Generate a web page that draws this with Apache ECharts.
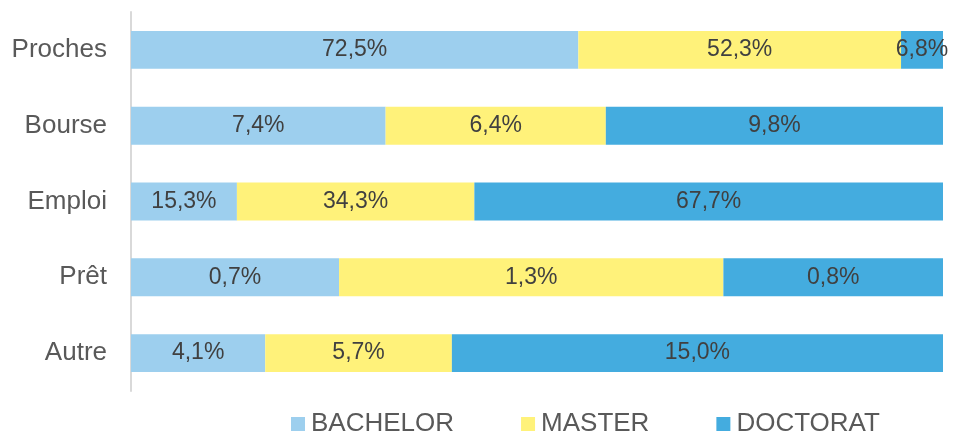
<!DOCTYPE html>
<html><head><meta charset="utf-8">
<script src="https://cdn.jsdelivr.net/npm/echarts@6/dist/echarts.min.js"></script>
<style>html,body{margin:0;padding:0;background:#fff}#c{width:954px;height:432px}</style>
</head><body><div id="c"></div>
<script>
const categories = ['Proches', 'Bourse', 'Emploi', 'Prêt', 'Autre'];
const seriesNames = ['BACHELOR', 'MASTER', 'DOCTORAT'];
// values as read (Prêt row carries an extra digit; labels round to 1 decimal)
const bachelor = [72.5, 7.4, 15.3, 0.72, 4.1];
const master = [52.3, 6.4, 34.3, 1.33, 5.7];
const doctorat = [6.8, 9.8, 67.7, 0.76, 15.0];
const colors = ['#9dcfee', '#fff27a', '#44acdf'];

const raw = [bachelor, master, doctorat];
const totals = categories.map((c, i) => bachelor[i] + master[i] + doctorat[i]);

const chart = echarts.init(document.getElementById('c'), null, {renderer: 'canvas'});
chart.setOption({
  animation: false,
  textStyle: {fontFamily: 'Liberation Sans, Arial, sans-serif'},
  grid: {left: 131, right: 11, top: 12, bottom: 41, containLabel: false},
  legend: {
    left: 286, top: 406, icon: 'rect', itemWidth: 14, itemHeight: 14, itemGap: 67,
    textStyle: {fontSize: 26, color: '#595959', padding: [0, 0, 0, 1]},
    data: seriesNames
  },
  xAxis: {type: 'value', min: 0, max: 100, show: false},
  yAxis: {
    type: 'category', data: categories, inverse: true,
    axisLine: {show: true, lineStyle: {color: '#d9d9d9', width: 2}},
    axisTick: {show: false},
    axisLabel: {fontSize: 26, color: '#595959', margin: 24}
  },
  series: seriesNames.map((name, s) => ({
    name, type: 'bar', stack: 'all', barWidth: '50%',
    itemStyle: {color: colors[s]},
    label: {
      show: true, position: 'inside', fontSize: 23, color: '#404040',
      formatter: p => raw[s][p.dataIndex].toFixed(1).replace('.', ',') + '%'
    },
    data: raw[s].map((v, i) => v / totals[i] * 100)
  }))
});
</script></body></html>
